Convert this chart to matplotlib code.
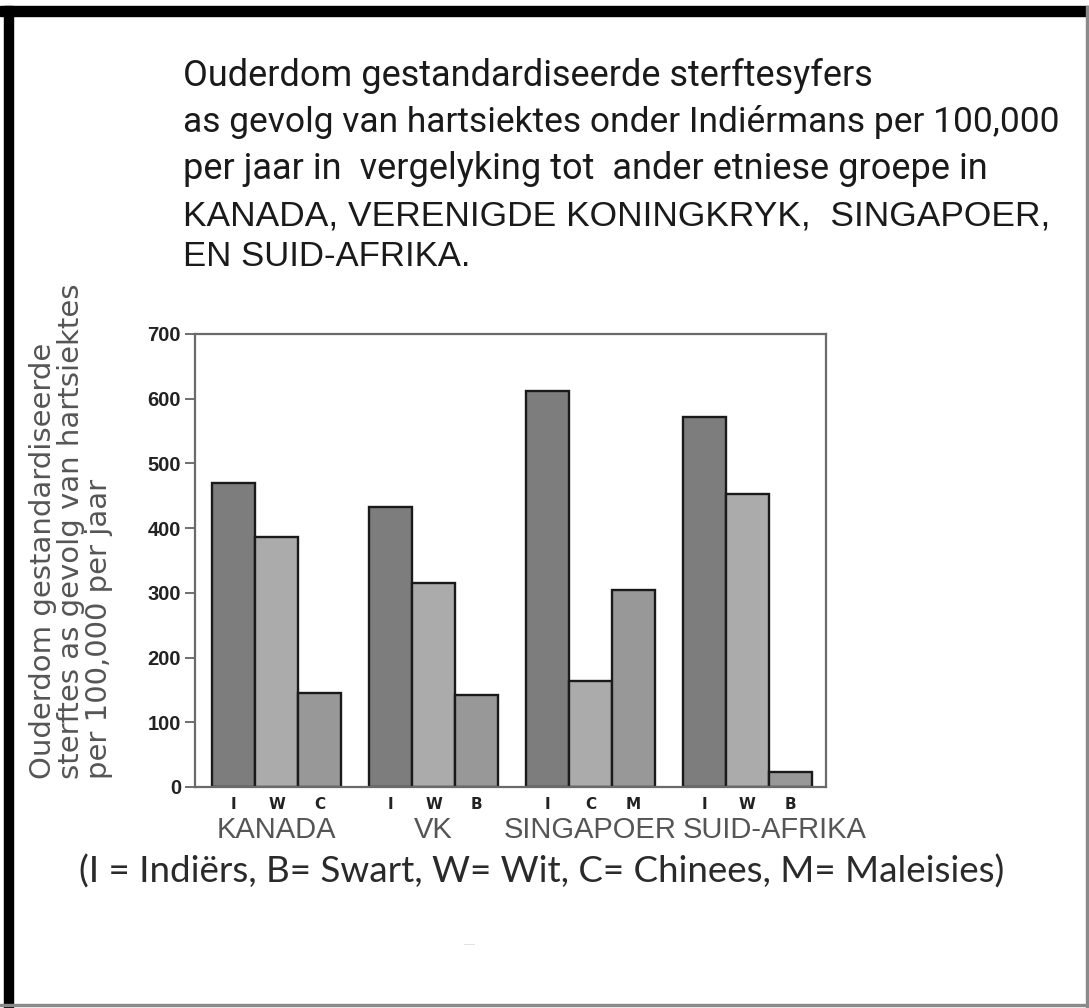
import numpy as np
import matplotlib.pyplot as plt
from matplotlib.patches import Rectangle

groups = ["KANADA", "VK", "SINGAPOER", "SUID-AFRIKA"]
letters = [["I", "W", "C"], ["I", "W", "B"], ["I", "C", "M"], ["I", "W", "B"]]
values = [[470, 386, 145],
          [433, 315, 142],
          [612, 164, 305],
          [572, 453, 23]]
yticks = [0, 100, 200, 300, 400, 500, 600, 700]

title_lines = ["Ouderdom gestandardiseerde sterftesyfers",
               "as gevolg van hartsiektes onder Indiérmans per 100,000",
               "per jaar in  vergelyking tot  ander etniese groepe in",
               "KANADA, VERENIGDE KONINGKRYK,  SINGAPOER,",
               "EN SUID-AFRIKA."]
ylabel_lines = ["Ouderdom gestandardiseerde",
                "sterftes as gevolg van hartsiektes",
                "per 100,000 per jaar"]
key_text = "(I = Indiërs, B= Swart, W= Wit, C= Chinees, M= Maleisies)"

bar_colors = ["#7d7d7d", "#ababab", "#989898"]

W, H = 1089, 1008
fig = plt.figure(figsize=(W / 100, H / 100), dpi=100)
fig.patch.set_facecolor("white")

# frame of the screenshot
fig.patches.append(Rectangle((0, 1 - 16 / H), 1, 10 / H, transform=fig.transFigure,
                             color="black", zorder=0))
fig.patches.append(Rectangle((4 / W, 0), 9 / W, 1 - 6 / H, transform=fig.transFigure,
                             color="black", zorder=0))
fig.patches.append(Rectangle((1 - 3 / W, 0), 2 / W, 1 - 6 / H, transform=fig.transFigure,
                             color="#8a8a8a", zorder=0))
fig.patches.append(Rectangle((0, 2 / H), 1, 2 / H, transform=fig.transFigure,
                             color="#8a8a8a", zorder=0))

ax = fig.add_axes([195 / W, 1 - 787 / H, (826 - 195) / W, (787 - 334) / H])

pitch = 3.64
bw = 1.0
xs, xl = [], []
for g, (vals, labs) in enumerate(zip(values, letters)):
    for j, (v, lab) in enumerate(zip(vals, labs)):
        x = g * pitch + j
        ax.bar(x, v, width=bw, color=bar_colors[j], edgecolor="#1a1a1a", linewidth=1.7)
        xs.append(x)
        xl.append(lab)

ax.set_xlim(-0.5 - 17 / 43, 3 * pitch + 2.5 + 14 / 43)
ax.set_ylim(0, 700)
ax.set_yticks(yticks)
ax.set_yticklabels([str(t) for t in yticks], family="Liberation Sans", fontsize=14.5,
                   fontweight="bold", color="#222222")
ax.set_xticks(xs)
ax.set_xticklabels(xl, family="DejaVu Sans", fontsize=11, fontweight="bold",
                   color="#222222")
ax.tick_params(axis="y", length=7, width=1.2, color="#555555", pad=3)
ax.tick_params(axis="x", length=0, pad=7)
for s in ax.spines.values():
    s.set_color("#6a6a6a")
    s.set_linewidth(1.6)

# group names under the letters (last one sits a little to the right)
name_shift = [0, 0, 0, 27]
for g, name in enumerate(groups):
    gx = g * pitch + 1
    ax.annotate(name, xy=(gx, 0), xycoords="data", xytext=(name_shift[g], -43),
                textcoords="offset pixels", ha="center", va="center",
                family="Liberation Sans", fontsize=21, color="#555555")

# title block
title_y = [86, 132, 179, 225, 266]
title_size = [26, 25.5, 26, 25.5, 25]
for i, (line, yb) in enumerate(zip(title_lines, title_y)):
    fam = "Roboto" if i < 3 else "Liberation Sans"
    fig.text(183 / W, 1 - yb / H, line, ha="left", va="baseline",
             family=fam, fontsize=title_size[i], color="#1a1a1a")

# rotated y label
for xc, line in zip([43, 71, 99], ylabel_lines):
    fig.text(xc / W, 1 - 779 / H, line, rotation=90, ha="center", va="bottom",
             family="DejaVu Sans", fontsize=21, color="#555555")

fig.text(542 / W, 1 - 872 / H, key_text, ha="center", va="center",
         family="Lato", fontsize=26.5, color="#2a2a2a")
fig.text(470 / W, 1 - 945 / H, "----", ha="center", va="center",
         fontsize=6, color="#cccccc")

fig.savefig("out.png", dpi=100, facecolor="white")
